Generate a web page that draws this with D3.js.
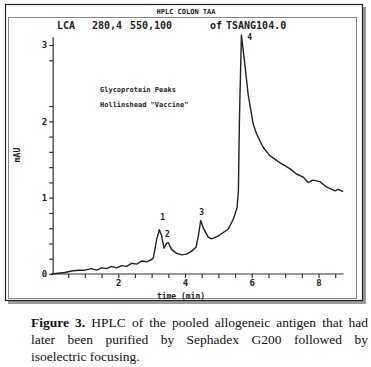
<!DOCTYPE html>
<html>
<head>
<meta charset="UTF-8">
<script src="https://d3js.org/d3.v7.min.js"></script>
<style>
  body { margin: 0; background: #fff; width: 371px; height: 367px; overflow: hidden; position: relative; }
  svg { position: absolute; left: 0; top: 0; }
  .mono { font-family: 'DejaVu Sans Mono', monospace; font-weight: bold; fill: #222; }
  #caption {
    position: absolute; left: 31px; top: 314px; width: 337px;
    font-family: 'Liberation Serif', 'Times New Roman', serif;
    font-size: 13.5px; line-height: 17px; color: #111;
  }
  #caption .j { text-align: justify; text-align-last: justify; white-space: nowrap; }
</style>
</head>
<body>
<svg id="chart" width="371" height="310"></svg>
<div id="caption">
  <div class="j"><b>Figure 3.</b> HPLC of the pooled allogeneic antigen that had</div>
  <div class="j">later been purified by Sephadex G200 followed by</div>
  <div>isoelectric focusing.</div>
</div>
<script>
// time (min) and absorbance (mAU)
const times = [0, 0.2, 0.4, 0.6, 0.8, 1.0, 1.2, 1.35, 1.5, 1.65, 1.8, 1.95, 2.1, 2.25, 2.4, 2.55, 2.7, 2.85, 3.0, 3.05,
  3.15, 3.23, 3.3, 3.37, 3.45, 3.5, 3.6, 3.75, 3.9, 4.05, 4.2, 4.33, 4.4, 4.47, 4.55, 4.7, 4.8, 5.0, 5.3, 5.45,
  5.56, 5.6, 5.63, 5.69, 5.79, 5.89, 6.04, 6.14, 6.34, 6.54, 6.84, 7.14, 7.34, 7.54, 7.69, 7.84, 8.04, 8.24, 8.49, 8.59, 8.74];
const mau = [0, 0.01, 0.02, 0.04, 0.05, 0.05, 0.07, 0.05, 0.08, 0.07, 0.1, 0.08, 0.11, 0.1, 0.14, 0.13, 0.17, 0.16, 0.19, 0.21,
  0.45, 0.58, 0.5, 0.34, 0.4, 0.41, 0.32, 0.27, 0.25, 0.26, 0.3, 0.35, 0.5, 0.7, 0.6, 0.48, 0.46, 0.5, 0.59, 0.72,
  0.87, 1.09, 2.0, 3.13, 2.76, 2.36, 1.97, 1.84, 1.66, 1.55, 1.46, 1.38, 1.31, 1.27, 1.2, 1.23, 1.21, 1.14, 1.09, 1.11, 1.08];
const peaks = [
  { label: "1", t: 3.33, v: 0.71 },
  { label: "2", t: 3.47, v: 0.485 },
  { label: "3", t: 4.5, v: 0.77 },
  { label: "4", t: 5.94, v: 3.07 }
];
const xTicks = [2, 4, 6, 8];
const yTicks = [0, 1, 2, 3];
const yMinor = [0.2, 0.4, 0.6, 0.8, 1.2, 1.4, 1.6, 1.8, 2.2, 2.8];

const svg = d3.select("#chart");

// frame with shadow
svg.append("rect").attr("x", 8).attr("y", 7).attr("width", 358).attr("height", 297).attr("fill", "#999");
svg.append("rect").attr("x", 5.5).attr("y", 4.5).attr("width", 357).attr("height", 296)
  .attr("fill", "#fff").attr("stroke", "#222").attr("stroke-width", 1.2);
svg.append("rect").attr("x", 8.5).attr("y", 17.5).attr("width", 348).attr("height", 281)
  .attr("fill", "none").attr("stroke", "#888").attr("stroke-width", 1);

svg.append("text").attr("class", "mono").attr("x", 186).attr("y", 14).attr("text-anchor", "middle")
  .attr("font-size", 7).text("HPLC COLON TAA");

const header = [["LCA", 57], ["280,4", 92], ["550,100", 130], ["of", 210], ["TSANG104.0", 226]];
svg.selectAll("text.hdr").data(header).join("text").attr("class", "mono hdr")
  .attr("x", d => d[1]).attr("y", 29).attr("font-size", 10).text(d => d[0]);

const x = d3.scaleLinear().domain([0, 8]).range([51.5, 318.5]);
const y = d3.scaleLinear().domain([0, 3]).range([274, 45]);

// axes
const xAxis = d3.axisBottom(x).tickValues(d3.range(0.5, 8.75, 0.5)).tickSize(4)
  .tickFormat(d => xTicks.includes(d) ? d : "");
const gx = svg.append("g").attr("transform", `translate(0,${y(0)})`).call(xAxis);
gx.select(".domain").attr("d", `M${x(0)},0H${x(8.75)}`);
const yAxis = d3.axisLeft(y).tickValues(yTicks.concat(yMinor)).tickSize(4)
  .tickFormat(d => yTicks.includes(d) ? d : "");
const gy = svg.append("g").attr("transform", `translate(${x(0.05)},0)`).call(yAxis);
gy.select(".domain").attr("d", `M0,${y(0)}V${y(3.1)}`);
[gx, gy].forEach(g => {
  g.selectAll(".domain, line").attr("stroke", "#333").attr("stroke-width", 1.2);
  g.selectAll("text").attr("class", "mono").attr("font-size", 9).attr("fill", "#222");
});
gx.selectAll("text").attr("dy", "0.55em");
gy.selectAll("text").attr("dx", "0.1em");

svg.append("text").attr("class", "mono").attr("x", 181).attr("y", 299).attr("text-anchor", "middle")
  .attr("font-size", 8).text("time (min)");
svg.append("text").attr("class", "mono").attr("transform", "translate(20,155) rotate(-90)")
  .attr("text-anchor", "middle").attr("font-size", 8).text("mAU");

svg.append("text").attr("class", "mono").attr("x", 100).attr("y", 91.5).attr("font-size", 7).text("Glycoprotein Peaks");
svg.append("text").attr("class", "mono").attr("x", 100).attr("y", 106.5).attr("font-size", 7).text('Hollinshead "Vaccine"');

// trace
const line = d3.line().x((d, i) => x(times[i])).y(d => y(d));
svg.append("path").datum(mau).attr("d", line).attr("fill", "none")
  .attr("stroke", "#222").attr("stroke-width", 1.4).attr("stroke-linejoin", "round");

svg.selectAll("text.pk").data(peaks).join("text").attr("class", "mono pk")
  .attr("x", d => x(d.t)).attr("y", d => y(d.v)).attr("text-anchor", "middle")
  .attr("font-size", 8).text(d => d.label);
</script>
</body>
</html>
